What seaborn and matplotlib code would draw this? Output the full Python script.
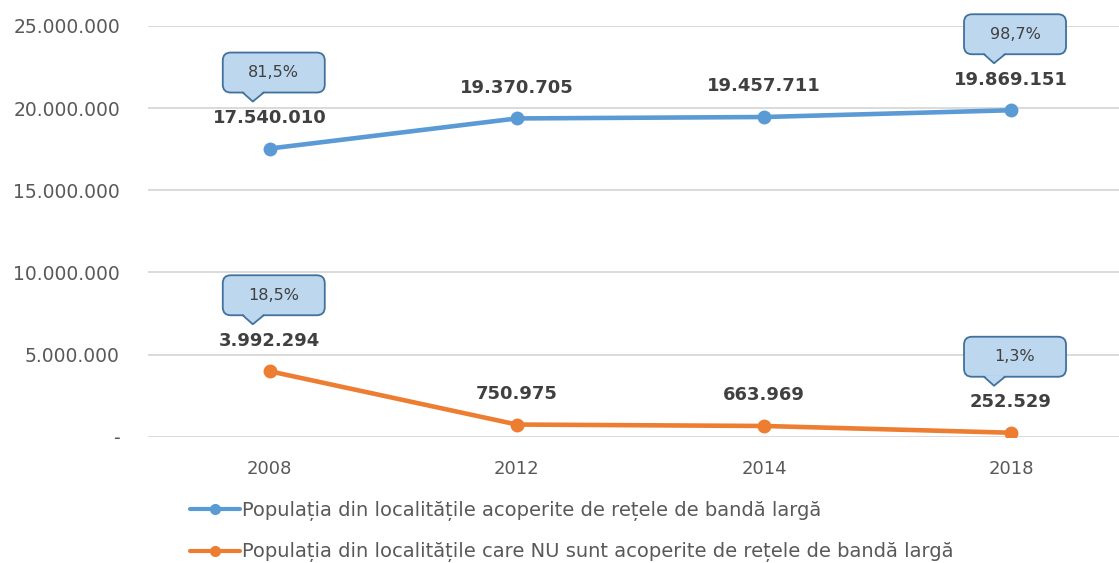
import pandas as pd
import seaborn as sns
import matplotlib.pyplot as plt
import matplotlib.transforms as mtransforms
from matplotlib.patches import FancyBboxPatch, Polygon
from matplotlib.lines import Line2D

# Date
ani = ["2008", "2012", "2014", "2018"]
acoperite = [17540010, 19370705, 19457711, 19869151]
neacoperite = [3992294, 750975, 663969, 252529]
proc_acoperite = {0: "81,5%", 3: "98,7%"}
proc_neacoperite = {0: "18,5%", 3: "1,3%"}
serie1 = "Populația din localitățile acoperite de rețele de bandă largă"
serie2 = "Populația din localitățile care NU sunt acoperite de rețele de bandă largă"
yticks = [0, 5000000, 10000000, 15000000, 20000000, 25000000]

albastru = "#5B9BD5"
portocaliu = "#ED7D31"
text_col = "#404040"

df = pd.DataFrame({
    "pos": list(range(len(ani))) * 2,
    "valoare": acoperite + neacoperite,
    "serie": [serie1] * len(ani) + [serie2] * len(ani),
})

sns.set_style("white")
plt.rcParams["font.family"] = ["DejaVu Sans"]

fig = plt.figure(figsize=(11.19, 5.63), dpi=100)
ax = fig.add_axes([0.132, 0.224, 0.868, 0.730])

sns.lineplot(data=df, x="pos", y="valoare", hue="serie",
             palette={serie1: albastru, serie2: portocaliu},
             marker="o", markersize=10, markeredgewidth=0,
             linewidth=3.3, legend=False, ax=ax, zorder=3)

ax.set_xlim(-0.494, 3.437)
ax.set_ylim(0, 25000000)
ax.set_xticks(range(len(ani)))
ax.set_xticklabels(ani)
ax.set_yticks(yticks)
ax.set_yticklabels(["-" if v == 0 else f"{v:,}".replace(",", ".") for v in yticks])
ax.tick_params(axis="y", length=0, pad=20, labelsize=13.5, labelcolor="#595959")
ax.tick_params(axis="x", length=0, pad=17, labelsize=13, labelcolor="#595959")
ax.set_xlabel("")
ax.set_ylabel("")
ax.grid(axis="y", color="#D4D4D4", linewidth=1.2)
for s in ax.spines.values():
    s.set_visible(False)

# etichete valori
for vals in (acoperite, neacoperite):
    for i, v in enumerate(vals):
        ax.annotate(f"{v:,}".replace(",", "."), (i, v), xytext=(0, 22),
                    textcoords="offset points", ha="center", va="center",
                    fontsize=13, fontweight="bold", color=text_col)


# bule cu procente (coordonate in pixeli fata de punct)
def bula(x, y, txt):
    t = (mtransforms.Affine2D().scale(1 / 100) + fig.dpi_scale_trans
         + mtransforms.ScaledTranslation(x, y, ax.transData))
    box = FancyBboxPatch((-47, 56), 102, 40, boxstyle="round,pad=0,rounding_size=8",
                         transform=t, facecolor="#BDD7EE", edgecolor="#41719C",
                         linewidth=1.3, clip_on=False, zorder=5)
    ax.add_patch(box)
    ax.add_patch(Polygon([(-27, 57.5), (-17, 47), (-6, 57.5)], closed=True,
                         transform=t, facecolor="#BDD7EE", edgecolor="none",
                         clip_on=False, zorder=6))
    ax.add_line(Line2D([-27, -17, -6], [56, 47, 56], transform=t, color="#41719C",
                       linewidth=1.3, clip_on=False, zorder=7))
    ax.text(4, 76, txt, transform=t, ha="center", va="center", fontsize=11.5,
            color=text_col, zorder=8, clip_on=False)


for i, p in proc_acoperite.items():
    bula(i, acoperite[i], p)
for i, p in proc_neacoperite.items():
    bula(i, neacoperite[i], p)

handles = [Line2D([], [], color=albastru, linewidth=3, marker="o", markersize=8, markeredgewidth=0),
           Line2D([], [], color=portocaliu, linewidth=3, marker="o", markersize=8, markeredgewidth=0)]
fig.legend(handles, [serie1, serie2], loc="upper left",
           bbox_to_anchor=(190 / 1119, 1 - 501 / 563), frameon=False,
           fontsize=14, handlelength=2.55, handletextpad=0.12,
           borderpad=0, borderaxespad=0, labelspacing=1.1, labelcolor="#595959")

fig.savefig("out.png", dpi=100)
